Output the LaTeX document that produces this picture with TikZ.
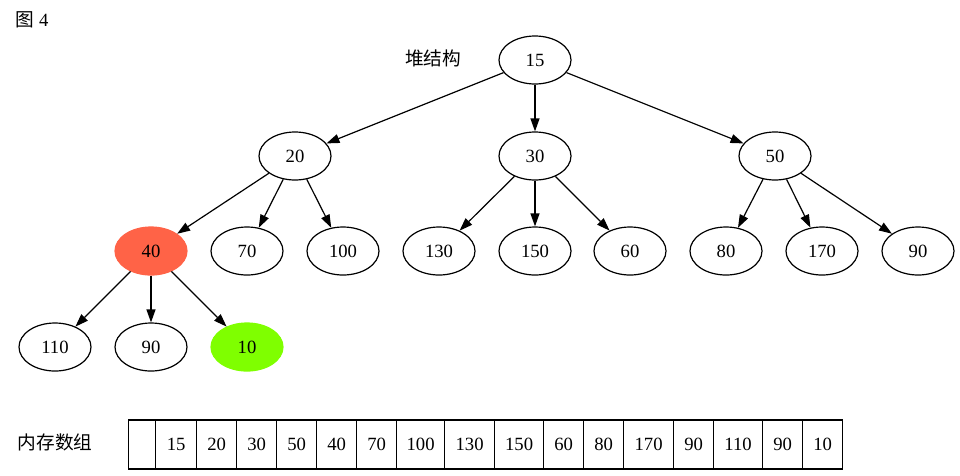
\documentclass[tikz,border=0pt]{standalone}
\usepackage{fontspec}
\setmainfont{Liberation Serif}
\newfontfamily\cjk{Noto Sans CJK SC}
\usetikzlibrary{shapes.geometric,arrows.meta}
\definecolor{tomato}{HTML}{FF6347}
\definecolor{chartreuse}{HTML}{7FFF00}
\begin{document}
\begin{tikzpicture}[x=1pt,y=-1pt,
  hnode/.style={ellipse,draw,line width=1.2pt,minimum width=72pt,minimum height=48pt,inner sep=0pt,font=\fontsize{18.67}{20}\selectfont},
  hot/.style={hnode,draw=tomato,fill=tomato},
  new/.style={hnode,draw=chartreuse,fill=chartreuse},
  edge/.style={line width=1.2pt,-{Triangle[length=13pt,width=9pt]}},
  cell/.style={draw,line width=1.2pt,minimum height=49pt,inner sep=0pt,anchor=west,font=\fontsize{18.67}{20}\selectfont},
  lbl/.style={inner sep=0pt,font=\fontsize{18.67}{20}\selectfont}]
\useasboundingbox (0,0) rectangle (960,475);
\node[lbl] (fig) at (32,20) {{\cjk 图} 4};
\node[lbl] (heap) at (433,58) {\cjk 堆结构};
\node[lbl] (mem) at (55,442) {\cjk 内存数组};
% tree
\node[hnode] (n15) at (535,60) {15};
\node[hnode] (n20) at (295,156) {20};
\node[hnode] (n30) at (535,156) {30};
\node[hnode] (n50) at (775,156) {50};
\node[hot] (n40) at (151,251) {40};
\node[hnode] (n70) at (247,251) {70};
\node[hnode] (n100) at (343,251) {100};
\node[hnode] (n130) at (439,251) {130};
\node[hnode] (n150) at (535,251) {150};
\node[hnode] (n60) at (630,251) {60};
\node[hnode] (n80) at (726,251) {80};
\node[hnode] (n170) at (822,251) {170};
\node[hnode] (n90a) at (918,251) {90};
\node[hnode] (n110) at (55,347) {110};
\node[hnode] (n90b) at (151,347) {90};
\node[new] (n10) at (247,347) {10};
\foreach \a/\b in {n15/n20,n15/n30,n15/n50,n20/n40,n20/n70,n20/n100,n30/n130,n30/n150,n30/n60,n50/n80,n50/n170,n50/n90a,n40/n110,n40/n90b,n40/n10}
  \draw[edge] (\a) -- (\b);
% array
\node[cell,minimum width=27pt] (c0) at (128,444.5) {};
\node[cell,minimum width=41pt] (c1) at (155,444.5) {15};
\node[cell,minimum width=40pt] (c2) at (196,444.5) {20};
\node[cell,minimum width=40pt] (c3) at (236,444.5) {30};
\node[cell,minimum width=40pt] (c4) at (276,444.5) {50};
\node[cell,minimum width=40pt] (c5) at (316,444.5) {40};
\node[cell,minimum width=40pt] (c6) at (356,444.5) {70};
\node[cell,minimum width=48pt] (c7) at (396,444.5) {100};
\node[cell,minimum width=50pt] (c8) at (444,444.5) {130};
\node[cell,minimum width=49pt] (c9) at (494,444.5) {150};
\node[cell,minimum width=40pt] (c10) at (543,444.5) {60};
\node[cell,minimum width=40pt] (c11) at (583,444.5) {80};
\node[cell,minimum width=50pt] (c12) at (623,444.5) {170};
\node[cell,minimum width=40pt] (c13) at (673,444.5) {90};
\node[cell,minimum width=49pt] (c14) at (713,444.5) {110};
\node[cell,minimum width=40pt] (c15) at (762,444.5) {90};
\node[cell,minimum width=40pt] (c16) at (802,444.5) {10};
\end{tikzpicture}
\end{document}
